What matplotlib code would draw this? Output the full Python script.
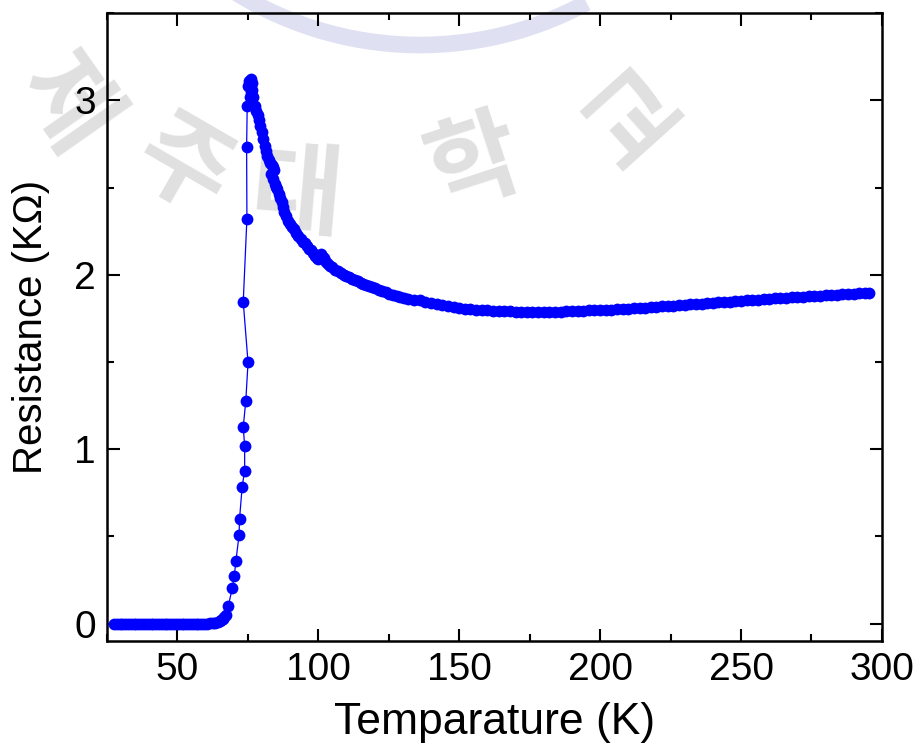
import matplotlib
matplotlib.use("Agg")
import matplotlib.pyplot as plt
from matplotlib.ticker import MultipleLocator
from matplotlib.patches import Arc

plt.rcParams['font.family'] = ['Liberation Sans', 'DejaVu Sans']

# flat superconducting part (K, kOhm)
temp_low = [27.5, 28.5, 29.5, 30.5, 31.5, 32.5, 33.5, 34.5, 35.5, 36.5, 37.5, 38.5, 39.5,
            40.5, 41.5, 42.5, 43.5, 44.5, 45.5, 46.5, 47.5, 48.5, 49.5, 50.5, 51.5, 52.5,
            53.5, 54.5, 55.5, 56.5, 57.5, 58.5, 59.5, 60.5, 61.5, 62.5, 63.5, 64.3, 65.0,
            65.6, 66.1, 66.6]
res_low = [0.0, 0.0, 0.0, 0.0, 0.0, 0.0, 0.0, 0.0, 0.0, 0.0, 0.0, 0.0, 0.0,
           0.0, 0.0, 0.0, 0.0, 0.0, 0.0, 0.0, 0.0, 0.0, 0.0, 0.0, 0.0, 0.0,
           0.0, 0.0, 0.0, 0.0, 0.0, 0.0, 0.0, 0.0, 0.001, 0.002, 0.004, 0.007, 0.012,
           0.018, 0.026, 0.036]

# transition points
temp_tr = [67.2, 68.1, 69.5, 70.2, 70.8, 71.9, 72.1, 73.0, 73.9, 73.9, 73.4, 74.3, 75.1,
           73.4, 74.7, 74.6, 74.8]
res_tr = [0.048, 0.101, 0.202, 0.271, 0.359, 0.506, 0.602, 0.783, 0.877, 1.018, 1.127,
          1.276, 1.497, 1.844, 2.322, 2.731, 2.966]

# peak and normal state
temp_high = [75.2, 75.6, 76.2, 76.6, 76.0, 75.8, 76.4, 77.0, 77.5,
             78.0, 78.5, 79.0, 79.5, 80.0, 80.5, 81.0, 81.5, 82.0, 82.5, 83.0, 83.5, 84.0,
             84.3, 83.3, 83.8, 84.5, 85.0, 85.5, 86.0, 86.5, 87.0, 87.5, 88.0, 88.5, 89.2,
             90.0, 90.8, 91.5, 92.2, 93.0, 93.8, 94.5, 95.2, 96.0, 96.8, 97.5, 98.2, 99.0,
             99.5, 100.0, 100.5, 101.0, 101.5, 102.0, 102.8, 103.5, 104.2, 105.0, 106.0,
             107.0, 108.0, 109.0, 110.0, 111.0, 112.0, 113.0, 114.0, 115.0, 116.0, 117.0,
             118.0, 119.0, 120.2, 121.5, 122.8, 124.0, 125.2, 126.5, 127.8, 129.0, 130.5,
             132.0, 134, 136, 138, 140, 142, 144, 146, 148, 150, 152, 154, 156, 158, 160,
             162, 164, 166, 168, 170, 172, 174, 176, 178, 180, 182, 184, 186, 188, 190,
             192, 194, 196, 198, 200, 202, 204, 206, 208, 210, 212, 214, 216, 218, 220,
             222, 224, 226, 228, 230, 232, 234, 236, 238, 240, 242, 244, 246, 248, 250,
             252, 254, 256, 258, 260, 262, 264, 266, 268, 270, 272, 274, 276, 278, 280,
             282, 284, 286, 288, 290, 292, 294, 295.5]
res_high = [3.08, 3.11, 3.12, 3.10, 3.05, 3.02, 3.06, 3.02, 2.97,
            2.94, 2.915, 2.89, 2.855, 2.82, 2.78, 2.74, 2.71, 2.68, 2.66, 2.64, 2.63, 2.62,
            2.60, 2.575, 2.55, 2.52, 2.505, 2.49, 2.465, 2.44, 2.415, 2.39, 2.36, 2.335, 2.31,
            2.29, 2.275, 2.26, 2.24, 2.22, 2.205, 2.19, 2.18, 2.165, 2.15, 2.14, 2.125, 2.11,
            2.095, 2.09, 2.11, 2.12, 2.11, 2.095, 2.075, 2.06, 2.05, 2.045, 2.03,
            2.02, 2.01, 2.00, 1.992, 1.985, 1.977, 1.97, 1.962, 1.955, 1.948, 1.94,
            1.935, 1.93, 1.922, 1.915, 1.907, 1.90, 1.892, 1.885, 1.877, 1.87, 1.865,
            1.86, 1.857, 1.853, 1.845, 1.838, 1.832, 1.825, 1.818, 1.813, 1.81, 1.806, 1.803,
            1.80, 1.798, 1.796, 1.794, 1.792, 1.791, 1.79, 1.789, 1.788, 1.788, 1.787, 1.787,
            1.787, 1.787, 1.788, 1.789, 1.79, 1.791, 1.792, 1.793, 1.795, 1.796, 1.797,
            1.799, 1.80, 1.802, 1.804, 1.806, 1.808, 1.810, 1.812, 1.814, 1.816, 1.818,
            1.820, 1.822, 1.825, 1.828, 1.83, 1.832, 1.834, 1.836, 1.838, 1.841, 1.844,
            1.846, 1.849, 1.851, 1.853, 1.855, 1.857, 1.859, 1.861, 1.864, 1.866, 1.868,
            1.87, 1.872, 1.874, 1.876, 1.878, 1.88, 1.882, 1.884, 1.886, 1.888, 1.89,
            1.892, 1.894, 1.896, 1.898]

temp = temp_low + temp_tr + temp_high
res = res_low + res_tr + res_high

# faint watermark characters: (char, x, y, rotation) in figure fraction
wm_chars = ['제', '주', '대', '학', '교']
wm_x = [0.072, 0.2, 0.325, 0.52, 0.695]
wm_y = [0.86, 0.775, 0.74, 0.78, 0.84]
wm_rot = [-55, -30, -5, 18, 42]

fig = plt.figure(figsize=(9.13, 7.51), dpi=100)

for ch, x, y, r in zip(wm_chars, wm_x, wm_y, wm_rot):
    fig.text(x, y, ch, fontsize=72, color='#e0e0e0', rotation=r, ha='center', va='center',
             family=['Noto Sans CJK KR'], fontweight='bold', zorder=-5)
# part of the logo ring at the top
fig.patches.append(Arc((420 / 913, 1 + 305 / 751), 700 / 913, 700 / 751,
                       theta1=237, theta2=294, transform=fig.transFigure,
                       color='#dfe1f2', lw=12, zorder=-5))

ax = fig.add_axes([0.117, 0.1465, 0.849, 0.836])
ax.patch.set_alpha(0)
ax.plot(temp, res, '-', color='blue', lw=0.9, marker='o', markersize=8.5,
        markeredgewidth=0, zorder=3)

ax.set_xlim(25, 300)
ax.set_ylim(-0.1, 3.5)
ax.xaxis.set_major_locator(MultipleLocator(50))
ax.xaxis.set_minor_locator(MultipleLocator(25))
ax.yaxis.set_major_locator(MultipleLocator(1))
ax.yaxis.set_minor_locator(MultipleLocator(0.5))
ax.tick_params(which='both', direction='in', top=True, right=True, width=1.5, labelsize=28)
ax.tick_params(which='major', length=9, pad=8)
ax.tick_params(which='minor', length=5)
for s in ax.spines.values():
    s.set_linewidth(1.8)

ax.set_xlabel('Temparature (K)', fontsize=32, labelpad=10)
ax.set_ylabel('Resistance (K\u03a9)', fontsize=29, labelpad=17)

fig.savefig('out.png', dpi=100)
